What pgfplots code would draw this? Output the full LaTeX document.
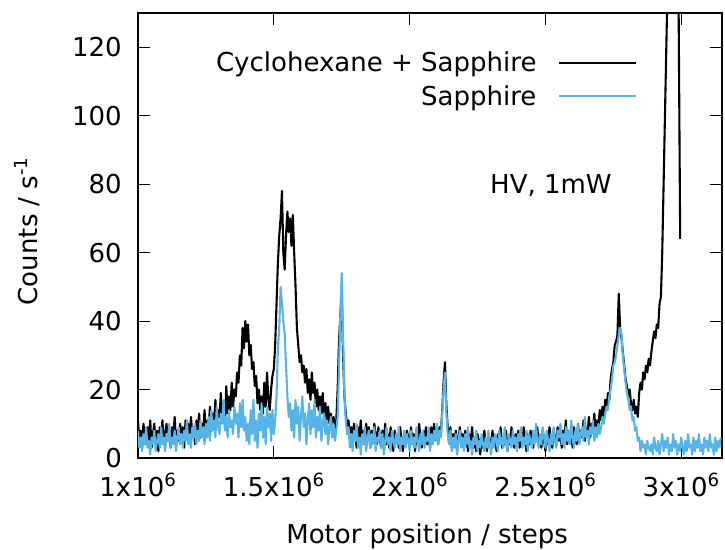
\documentclass[border=0pt]{standalone}
\usepackage{fontspec}
\setmainfont{DejaVu Sans}
\usepackage{pgfplots}
\pgfplotsset{compat=1.18}
\definecolor{sky}{RGB}{86,180,233}
\newcommand{\bigf}{\fontsize{26}{31}\selectfont}
\begin{document}
\begin{tikzpicture}
\begin{axis}[
  at={(0pt,0pt)}, anchor=south west,
  scale only axis, width=584pt, height=445pt,
  xmin=1000, xmax=3150, ymin=0, ymax=130,
  xtick={1000,1500,2000,2500,3000},
  xticklabels={1x10\textsuperscript{6},1.5x10\textsuperscript{6},2x10\textsuperscript{6},2.5x10\textsuperscript{6},3x10\textsuperscript{6}},
  ytick={0,20,40,60,80,100,120},
  scaled x ticks=false,
  tick align=inside, major tick length=12pt,
  tick style={black, line width=0.8pt},
  axis line style={line width=1.1pt},
  /pgf/number format/assume math mode=true,
  tick label style={font=\bigf},
  xticklabel style={anchor=base, yshift=-38pt, inner sep=0pt},
  yticklabel style={anchor=east, inner sep=0pt, xshift=-16pt},
  xlabel={Motor position / steps},
  ylabel={Counts / s\textsuperscript{-1}},
  label style={font=\bigf},
  xlabel style={at={(axis description cs:0.495,-0.1915)}, anchor=base, inner sep=0pt},
  ylabel style={at={(axis description cs:-0.1729,0.51)}, anchor=base, inner sep=0pt},
  legend style={at={(rel axis cs:0.8545,0.912)}, anchor=north east, draw=none, fill=none, inner sep=0pt, outer sep=0pt, row sep=12pt, column sep=22pt, font=\bigf, nodes={inner sep=0pt}},
  legend cell align=right,
  legend plot pos=right,
  legend image code/.code={\draw[#1, line width=1.6pt] (0pt,0pt) -- (77pt,0pt);},
]
\addplot[black, line width=2.1pt, line join=round] table[row sep=\\] {x y\\
1000 11\\ 1005 5\\ 1010 8\\ 1015 3\\ 1020 10\\ 1025 6\\ 1030 4\\ 1035 9\\ 1040 5\\ 1045 11\\ 1050 3\\ 1055 7\\ 1060 10\\ 1065 4\\ 1070 8\\ 1075 2\\ 1080 9\\ 1085 6\\ 1090 11\\ 1095 4\\ 1100 7\\ 1105 10\\ 1110 5\\ 1115 8\\ 1120 3\\ 1125 9\\ 1130 6\\ 1135 12\\ 1140 4\\ 1145 8\\ 1150 5\\ 1155 10\\ 1160 6\\ 1165 9\\ 1170 3\\ 1175 11\\ 1180 7\\ 1185 10\\ 1190 5\\ 1195 12\\ 1200 7\\ 1205 9\\ 1210 4\\ 1215 11\\ 1220 8\\ 1225 13\\ 1230 6\\ 1235 10\\ 1240 8\\ 1245 14\\ 1250 7\\
1255 11\\ 1260 9\\ 1265 15\\ 1270 8\\ 1275 13\\ 1280 10\\ 1285 17\\ 1290 9\\ 1295 14\\ 1300 12\\ 1305 19\\ 1310 11\\ 1315 16\\ 1320 10\\ 1325 21\\ 1330 13\\ 1335 18\\ 1340 14\\ 1345 22\\ 1350 15\\ 1355 20\\
1360 18\\ 1365 25\\ 1370 22\\ 1375 30\\ 1380 27\\ 1385 38\\ 1390 32\\ 1395 40\\ 1400 34\\ 1405 39\\ 1410 30\\ 1415 33\\ 1420 26\\ 1425 28\\ 1430 21\\ 1435 24\\ 1440 16\\ 1445 20\\ 1450 14\\ 1455 18\\ 1460 13\\ 1465 22\\ 1470 15\\ 1475 25\\ 1480 17\\ 1485 14\\ 1490 20\\ 1495 24\\ 1500 26\\ 1505 33\\
1510 45\\ 1515 57\\ 1520 65\\ 1525 70\\ 1530 78\\ 1535 60\\ 1540 55\\ 1545 65\\ 1550 72\\ 1555 66\\ 1560 70\\ 1565 62\\ 1570 71\\ 1575 60\\ 1580 50\\ 1585 38\\ 1590 33\\ 1595 28\\ 1600 30\\ 1605 25\\ 1610 27\\ 1615 22\\ 1620 26\\ 1625 19\\ 1630 23\\ 1635 17\\ 1640 25\\ 1645 19\\ 1650 22\\ 1655 15\\ 1660 20\\ 1665 14\\ 1670 18\\ 1675 13\\ 1680 19\\ 1685 12\\ 1690 16\\ 1695 11\\ 1700 15\\ 1705 10\\ 1710 13\\ 1715 9\\ 1720 12\\ 1725 8\\ 1730 11\\
1735 20\\ 1740 34\\ 1745 42\\ 1750 48\\ 1755 30\\ 1760 18\\ 1765 13\\ 1770 9\\
1775 11\\ 1780 6\\ 1785 9\\ 1790 4\\ 1795 10\\ 1800 7\\ 1805 3\\ 1810 9\\ 1815 6\\ 1820 11\\ 1825 5\\ 1830 8\\ 1835 4\\ 1840 10\\ 1845 6\\ 1850 9\\ 1855 3\\ 1860 8\\ 1865 5\\ 1870 10\\ 1875 7\\ 1880 4\\ 1885 9\\ 1890 6\\ 1895 3\\ 1900 8\\ 1905 5\\ 1910 10\\ 1915 4\\ 1920 7\\ 1925 3\\ 1930 9\\ 1935 6\\ 1940 2\\ 1945 8\\ 1950 5\\ 1955 7\\ 1960 3\\ 1965 9\\ 1970 5\\ 1975 2\\ 1980 7\\ 1985 4\\ 1990 8\\ 1995 6\\ 2000 3\\ 2005 9\\ 2010 5\\ 2015 7\\ 2020 2\\ 2025 8\\ 2030 4\\ 2035 10\\ 2040 6\\ 2045 3\\ 2050 8\\ 2055 5\\ 2060 9\\ 2065 4\\ 2070 7\\ 2075 3\\ 2080 9\\ 2085 5\\ 2090 10\\ 2095 6\\ 2100 8\\ 2105 4\\ 2110 9\\ 2115 7\\
2120 14\\ 2125 22\\ 2130 28\\ 2135 16\\ 2140 9\\
2145 5\\ 2150 9\\ 2155 3\\ 2160 7\\ 2165 4\\ 2170 8\\ 2175 2\\ 2180 6\\ 2185 9\\ 2190 4\\ 2195 7\\ 2200 3\\ 2205 8\\ 2210 5\\ 2215 2\\ 2220 7\\ 2225 4\\ 2230 9\\ 2235 3\\ 2240 6\\ 2245 2\\ 2250 7\\ 2255 5\\ 2260 1\\ 2265 6\\ 2270 3\\ 2275 8\\ 2280 4\\ 2285 2\\ 2290 7\\ 2295 5\\ 2300 3\\ 2305 8\\ 2310 4\\ 2315 6\\ 2320 2\\ 2325 7\\ 2330 5\\ 2335 9\\ 2340 3\\ 2345 6\\ 2350 4\\ 2355 8\\ 2360 2\\ 2365 6\\ 2370 4\\ 2375 9\\ 2380 5\\ 2385 3\\ 2390 7\\ 2395 4\\ 2400 8\\ 2405 3\\ 2410 6\\ 2415 4\\ 2420 9\\ 2425 5\\ 2430 2\\ 2435 7\\ 2440 4\\ 2445 8\\ 2450 6\\ 2455 3\\ 2460 7\\ 2465 5\\ 2470 9\\ 2475 4\\ 2480 6\\ 2485 3\\ 2490 8\\ 2495 5\\ 2500 2\\ 2505 7\\ 2510 4\\ 2515 9\\ 2520 5\\ 2525 3\\ 2530 8\\ 2535 6\\ 2540 4\\ 2545 9\\ 2550 5\\ 2555 7\\ 2560 3\\ 2565 8\\ 2570 6\\ 2575 11\\ 2580 4\\ 2585 8\\ 2590 5\\ 2595 7\\ 2600 3\\ 2605 9\\ 2610 6\\ 2615 4\\ 2620 10\\ 2625 5\\ 2630 8\\ 2635 6\\ 2640 11\\ 2645 5\\ 2650 9\\ 2655 7\\ 2660 12\\ 2665 6\\ 2670 10\\ 2675 8\\ 2680 13\\ 2685 7\\ 2690 11\\ 2695 9\\ 2700 14\\
2705 11\\ 2710 15\\ 2715 12\\ 2720 17\\ 2725 14\\ 2730 19\\ 2735 17\\ 2740 23\\ 2745 26\\ 2750 28\\ 2755 33\\ 2760 34\\ 2765 36\\ 2770 48\\ 2775 38\\ 2780 35\\ 2785 31\\ 2790 27\\ 2795 23\\ 2800 21\\ 2805 18\\ 2810 20\\ 2815 16\\ 2820 14\\ 2825 17\\ 2830 13\\ 2835 15\\ 2840 12\\ 2845 19\\ 2850 22\\ 2855 20\\ 2860 25\\ 2865 23\\ 2870 27\\ 2875 25\\ 2880 29\\ 2885 27\\ 2890 31\\ 2895 34\\ 2900 37\\ 2905 35\\ 2910 39\\ 2915 38\\ 2920 45\\ 2925 47\\ 2930 60\\ 2955 160\\ 2970 250\\ 2982 230\\ 2996 64\\
};
\addlegendentry{Cyclohexane + Sapphire}
\addplot[sky, line width=2.1pt, line join=round] table[row sep=\\] {x y\\
1000 8\\ 1005 3\\ 1010 6\\ 1015 2\\ 1020 7\\ 1025 4\\ 1030 9\\ 1035 3\\ 1040 5\\ 1045 1\\ 1050 6\\ 1055 4\\ 1060 8\\ 1065 2\\ 1070 5\\ 1075 7\\ 1080 3\\ 1085 9\\ 1090 4\\ 1095 6\\ 1100 2\\ 1105 7\\ 1110 5\\ 1115 10\\ 1120 3\\ 1125 6\\ 1130 4\\ 1135 8\\ 1140 2\\ 1145 6\\ 1150 9\\ 1155 4\\ 1160 7\\ 1165 3\\ 1170 8\\ 1175 5\\ 1180 11\\ 1185 4\\ 1190 7\\ 1195 3\\ 1200 9\\ 1205 6\\ 1210 10\\ 1215 4\\ 1220 8\\ 1225 5\\ 1230 11\\ 1235 6\\ 1240 9\\ 1245 4\\ 1250 10\\
1255 6\\ 1260 12\\ 1265 5\\ 1270 14\\ 1275 8\\ 1280 11\\ 1285 6\\ 1290 15\\ 1295 9\\ 1300 7\\ 1305 13\\ 1310 10\\ 1315 17\\ 1320 8\\ 1325 12\\ 1330 6\\ 1335 14\\ 1340 9\\ 1345 11\\ 1350 7\\ 1355 15\\ 1360 10\\ 1365 13\\ 1370 6\\ 1375 16\\ 1380 9\\ 1385 17\\ 1390 8\\ 1395 12\\ 1400 5\\
1405 10\\ 1410 4\\ 1415 14\\ 1420 7\\ 1425 17\\ 1430 5\\ 1435 11\\ 1440 3\\ 1445 13\\ 1450 8\\ 1455 16\\ 1460 6\\ 1465 12\\ 1470 4\\ 1475 15\\ 1480 9\\ 1485 13\\ 1490 5\\ 1495 14\\ 1500 7\\ 1505 11\\
1510 18\\ 1515 32\\ 1520 38\\ 1525 50\\ 1530 45\\ 1535 40\\ 1540 36\\ 1545 27\\ 1550 18\\ 1555 12\\
1560 16\\ 1565 8\\ 1570 14\\ 1575 6\\ 1580 17\\ 1585 10\\ 1590 15\\ 1595 5\\ 1600 12\\ 1605 18\\ 1610 9\\ 1615 13\\ 1620 4\\ 1625 11\\ 1630 16\\ 1635 7\\ 1640 14\\ 1645 9\\ 1650 17\\ 1655 6\\ 1660 12\\ 1665 8\\ 1670 15\\ 1675 5\\ 1680 10\\ 1685 13\\ 1690 7\\ 1695 11\\ 1700 4\\ 1705 9\\ 1710 12\\ 1715 6\\ 1720 10\\ 1725 5\\ 1730 8\\
1735 12\\ 1740 26\\ 1745 42\\ 1750 54\\ 1755 36\\ 1760 18\\ 1765 11\\ 1770 7\\
1775 9\\ 1780 3\\ 1785 7\\ 1790 2\\ 1795 8\\ 1800 5\\ 1805 10\\ 1810 3\\ 1815 6\\ 1820 1\\ 1825 7\\ 1830 4\\ 1835 9\\ 1840 2\\ 1845 6\\ 1850 8\\ 1855 3\\ 1860 7\\ 1865 4\\ 1870 9\\ 1875 2\\ 1880 6\\ 1885 5\\ 1890 8\\ 1895 3\\ 1900 7\\ 1905 1\\ 1910 5\\ 1915 9\\ 1920 4\\ 1925 6\\ 1930 2\\ 1935 8\\ 1940 5\\ 1945 3\\ 1950 7\\ 1955 4\\ 1960 9\\ 1965 2\\ 1970 6\\ 1975 4\\ 1980 8\\ 1985 3\\ 1990 7\\ 1995 5\\ 2000 2\\ 2005 8\\ 2010 4\\ 2015 6\\ 2020 3\\ 2025 9\\ 2030 5\\ 2035 2\\ 2040 7\\ 2045 4\\ 2050 8\\ 2055 3\\ 2060 6\\ 2065 5\\ 2070 9\\ 2075 2\\ 2080 7\\ 2085 4\\ 2090 8\\ 2095 5\\ 2100 10\\ 2105 4\\ 2110 8\\ 2115 6\\
2120 13\\ 2125 20\\ 2130 25\\ 2135 14\\ 2140 7\\
2145 4\\ 2150 8\\ 2155 2\\ 2160 6\\ 2165 3\\ 2170 7\\ 2175 1\\ 2180 5\\ 2185 8\\ 2190 3\\ 2195 6\\ 2200 2\\ 2205 7\\ 2210 4\\ 2215 9\\ 2220 3\\ 2225 5\\ 2230 1\\ 2235 6\\ 2240 4\\ 2245 8\\ 2250 2\\ 2255 5\\ 2260 3\\ 2265 7\\ 2270 4\\ 2275 2\\ 2280 6\\ 2285 3\\ 2290 8\\ 2295 4\\ 2300 1\\ 2305 6\\ 2310 3\\ 2315 7\\ 2320 5\\ 2325 2\\ 2330 8\\ 2335 4\\ 2340 6\\ 2345 3\\ 2350 9\\ 2355 4\\ 2360 2\\ 2365 7\\ 2370 5\\ 2375 3\\ 2380 8\\ 2385 4\\ 2390 6\\ 2395 2\\ 2400 7\\ 2405 5\\ 2410 9\\ 2415 3\\ 2420 6\\ 2425 4\\ 2430 8\\ 2435 2\\ 2440 7\\ 2445 5\\ 2450 3\\ 2455 8\\ 2460 4\\ 2465 10\\ 2470 5\\ 2475 3\\ 2480 7\\ 2485 4\\ 2490 9\\ 2495 6\\ 2500 3\\ 2505 8\\ 2510 5\\ 2515 2\\ 2520 7\\ 2525 4\\ 2530 9\\ 2535 5\\ 2540 3\\ 2545 8\\ 2550 6\\ 2555 10\\ 2560 4\\ 2565 7\\ 2570 3\\ 2575 9\\ 2580 5\\ 2585 8\\ 2590 4\\ 2595 11\\ 2600 6\\ 2605 3\\ 2610 8\\ 2615 5\\ 2620 10\\ 2625 4\\ 2630 7\\ 2635 9\\ 2640 5\\ 2645 12\\ 2650 6\\ 2655 8\\ 2660 4\\ 2665 9\\ 2670 7\\ 2675 11\\ 2680 5\\ 2685 9\\ 2690 6\\ 2695 10\\ 2700 7\\
2705 9\\ 2710 12\\ 2715 10\\ 2720 13\\ 2725 15\\ 2730 14\\ 2735 18\\ 2740 20\\ 2745 23\\ 2750 27\\ 2755 28\\ 2760 30\\ 2765 33\\ 2770 36\\ 2775 38\\ 2780 36\\ 2785 30\\ 2790 26\\ 2795 22\\ 2800 19\\ 2805 17\\ 2810 14\\ 2815 15\\ 2820 11\\ 2825 12\\ 2830 8\\ 2835 9\\ 2840 5\\
2845 6\\ 2850 2\\ 2855 5\\ 2860 3\\ 2865 4\\ 2870 1\\ 2875 5\\ 2880 3\\ 2885 2\\ 2890 4\\ 2895 1\\ 2900 6\\ 2905 3\\ 2910 2\\ 2915 5\\ 2920 1\\ 2925 4\\ 2930 7\\ 2935 2\\ 2940 5\\ 2945 3\\ 2950 6\\ 2955 1\\ 2960 4\\ 2965 2\\ 2970 7\\ 2975 3\\ 2980 5\\ 2985 1\\ 2990 4\\ 2995 2\\ 3000 6\\ 3005 3\\ 3010 1\\ 3015 5\\ 3020 2\\ 3025 7\\ 3030 3\\ 3035 4\\ 3040 1\\ 3045 6\\ 3050 2\\ 3055 5\\ 3060 3\\ 3065 7\\ 3070 2\\ 3075 4\\ 3080 1\\ 3085 6\\ 3090 3\\ 3095 5\\ 3100 2\\ 3105 7\\ 3110 3\\ 3115 4\\ 3120 1\\ 3125 6\\ 3130 2\\ 3135 5\\ 3140 3\\ 3145 6\\
};
\addlegendentry{Sapphire}
\node[anchor=base west, inner sep=0pt, font=\bigf] at (axis cs:2296,77.4) {HV, 1mW};
\end{axis}
\pgfresetboundingbox
\path (-138pt,-91pt) rectangle (587pt,458pt);
\end{tikzpicture}
\end{document}
